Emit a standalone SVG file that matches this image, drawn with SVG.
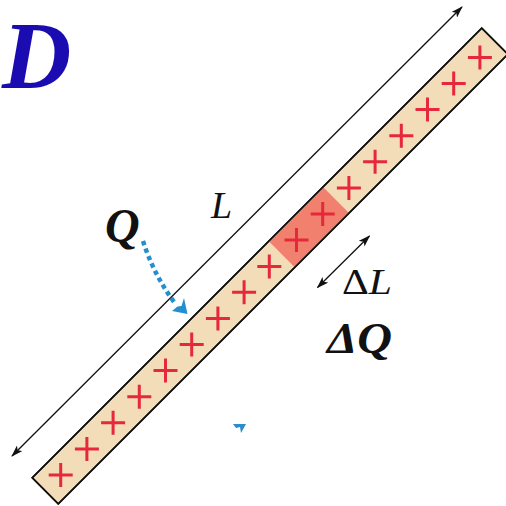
<svg xmlns="http://www.w3.org/2000/svg" xmlns:xlink="http://www.w3.org/1999/xlink" width="506" height="506" viewBox="0 0 506 506">
<style>
.rod{fill:#f3dcb8;stroke:#111;stroke-width:1.6}
.seg{fill:#f2806f}
.plus{stroke:#e5283a;stroke-width:3;fill:none}
.ln{stroke:#111;stroke-width:1.3;fill:none}
.txt{font-family:"Liberation Serif","Times New Roman",serif;font-style:italic;fill:#111}
.dot{stroke:#2290cf;stroke-width:4.5;fill:none;stroke-dasharray:4.5 3.5}
</style>
<defs>
<marker id="ah" viewBox="0 0 12 8" refX="11" refY="4" markerWidth="12" markerHeight="8" markerUnits="userSpaceOnUse" orient="auto-start-reverse">
<path d="M0,0 L12,4 L0,8 L3,4 z" fill="#111"/>
</marker>
<path id="p" class="plus" d="M-12,0H12M0,-12V12"/>
</defs>
<g id="rod" transform="translate(45.25,490.75) rotate(-45)">
<rect class="rod" x="0" y="-18.4" width="635.7" height="36.8"/>
<rect class="seg" x="334.5" y="-17.6" width="76.7" height="35.2"/>
<rect x="0" y="-18.4" width="635.7" height="36.8" fill="none" stroke="#111" stroke-width="1.6"/>
</g>
<g id="charges">
<use xlink:href="#p" x="60.7" y="475"/>
<use xlink:href="#p" x="86.9" y="448.9"/>
<use xlink:href="#p" x="113.1" y="422.8"/>
<use xlink:href="#p" x="139.3" y="396.7"/>
<use xlink:href="#p" x="165.5" y="370.6"/>
<use xlink:href="#p" x="191.7" y="344.5"/>
<use xlink:href="#p" x="217.9" y="318.4"/>
<use xlink:href="#p" x="244.1" y="292.3"/>
<use xlink:href="#p" x="269.3" y="266.4"/>
<use xlink:href="#p" x="296.5" y="240.1"/>
<use xlink:href="#p" x="322.7" y="214"/>
<use xlink:href="#p" x="348.9" y="187.9"/>
<use xlink:href="#p" x="375.1" y="161.8"/>
<use xlink:href="#p" x="401.3" y="135.7"/>
<use xlink:href="#p" x="427.5" y="109.6"/>
<use xlink:href="#p" x="453.7" y="83.5"/>
<use xlink:href="#p" x="479.9" y="57.4"/>
</g>
<g id="connectors">
<line class="ln" x1="12" y1="456" x2="462" y2="7" marker-start="url(#ah)" marker-end="url(#ah)"/>
<line class="ln" x1="317.5" y1="287.5" x2="369.5" y2="236" marker-start="url(#ah)" marker-end="url(#ah)"/>
<path class="dot" d="M143,241 Q153,273 174,302"/>
<polygon points="184,298 187.5,314 172,311 177.5,306.5 181.5,306" fill="#2290cf"/>
</g>
<g id="labels">
<text x="2" y="88" font-family="Liberation Serif, serif" font-style="italic" font-weight="bold" font-size="96" fill="#1a0cb0">D</text>
<text class="txt" x="105" y="242" font-weight="bold" font-size="48">Q</text>
<text class="txt" x="211" y="218" font-size="38">L</text>
<text x="342" y="294" font-family="Liberation Serif, serif" font-size="36" fill="#111" textLength="50" lengthAdjust="spacingAndGlyphs">Δ<tspan font-style="italic">L</tspan></text>
<text class="txt" x="327" y="353" font-weight="bold" font-size="44" textLength="65" lengthAdjust="spacingAndGlyphs">ΔQ</text>
</g>
<polygon points="233,424 246,424 241,433 240,427 236,428" fill="#2a8ccc"/>
</svg>
